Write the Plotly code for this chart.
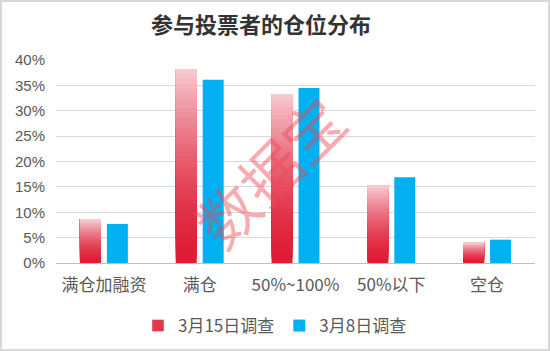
import plotly.graph_objects as go

categories = ["满仓加融资", "满仓", "50%~100%", "50%以下", "空仓"]
series_0315 = [0.086, 0.382, 0.333, 0.153, 0.040]
series_0308 = [0.077, 0.361, 0.345, 0.169, 0.046]
series_names = ["3月15日调查", "3月8日调查"]
y_ticks = [0, 0.05, 0.10, 0.15, 0.20, 0.25, 0.30, 0.35, 0.40]

W, H = 550, 351
L, R, T, B = 56, 15, 60, 88
pw, ph = W - L - R, H - T - B

red_bottom = (222, 28, 52)
pink_top = (247, 205, 212)
N = 40

fig = go.Figure()
for i in range(N):
    t = (i + 0.5) / N
    f = t ** 1.6
    c = tuple(round(red_bottom[k] + (pink_top[k] - red_bottom[k]) * f) for k in range(3))
    fig.add_trace(go.Bar(
        x=categories,
        y=[v * (N - i) / N for v in series_0315],
        base=[v * i / N for v in series_0315],
        marker=dict(color="rgb(%d,%d,%d)" % c, line=dict(width=0)),
        offsetgroup="a",
        legendgroup="a",
        name=series_names[0],
        showlegend=False,
        hoverinfo="skip",
    ))
# legend entry for red series
fig.add_trace(go.Bar(
    x=categories, y=[None] * len(categories), name=series_names[0],
    marker=dict(color="#E2384F"), offsetgroup="a", legendgroup="a", showlegend=True,
))
fig.add_trace(go.Bar(
    x=categories, y=series_0308, name=series_names[1],
    marker=dict(color="#00B0F0", line=dict(width=0)), offsetgroup="b",
))

fig.update_layout(
    width=W, height=H,
    margin=dict(l=L, r=R, t=T, b=B),
    paper_bgcolor="white", plot_bgcolor="white",
    barmode="group", bargap=0.437, bargroupgap=0.222,
    title=dict(text="参与投票者的仓位分布", xref="container", x=261 / W, xanchor="center",
               y=1 - 25 / H, yanchor="middle",
               font=dict(family="Noto Sans CJK SC", size=22, color="#333333", weight="bold")),
    legend=dict(orientation="h", xref="container", yref="container", x=0.5, xanchor="center",
                y=1 - 326 / H, yanchor="middle",
                font=dict(family="Noto Sans CJK SC", size=17, color="#595959"),
                itemwidth=30, traceorder="normal"),
    showlegend=True,
    annotations=[dict(text="数据宝", xref="paper", yref="paper", x=(268 - L) / pw, y=(ph - (170 - T)) / ph,
                      showarrow=False, textangle=-45,
                      font=dict(family="Noto Sans CJK SC", size=60, color="rgba(240,70,85,0.45)"))],
    shapes=[dict(type="rect", xref="paper", yref="paper",
                 x0=-(L - 1) / pw, x1=1 + (R - 1) / pw, y0=-(B - 1) / ph, y1=1 + (T - 1) / ph,
                 line=dict(color="#d9d9d9", width=2), layer="below")],
)
fig.update_xaxes(showline=True, linecolor="#bfbfbf", linewidth=1, ticks="", ticklabelstandoff=7,
                 tickfont=dict(family="Noto Sans CJK SC", size=17, color="#595959"))
fig.update_yaxes(range=[0, 0.40], tickvals=y_ticks, tickformat=".0%", showgrid=True,
                 gridcolor="#d9d9d9", gridwidth=1, zeroline=False, ticks="", ticklabelstandoff=10,
                 tickfont=dict(family="Liberation Sans", size=15, color="#595959"))

fig.write_html("out.html")
